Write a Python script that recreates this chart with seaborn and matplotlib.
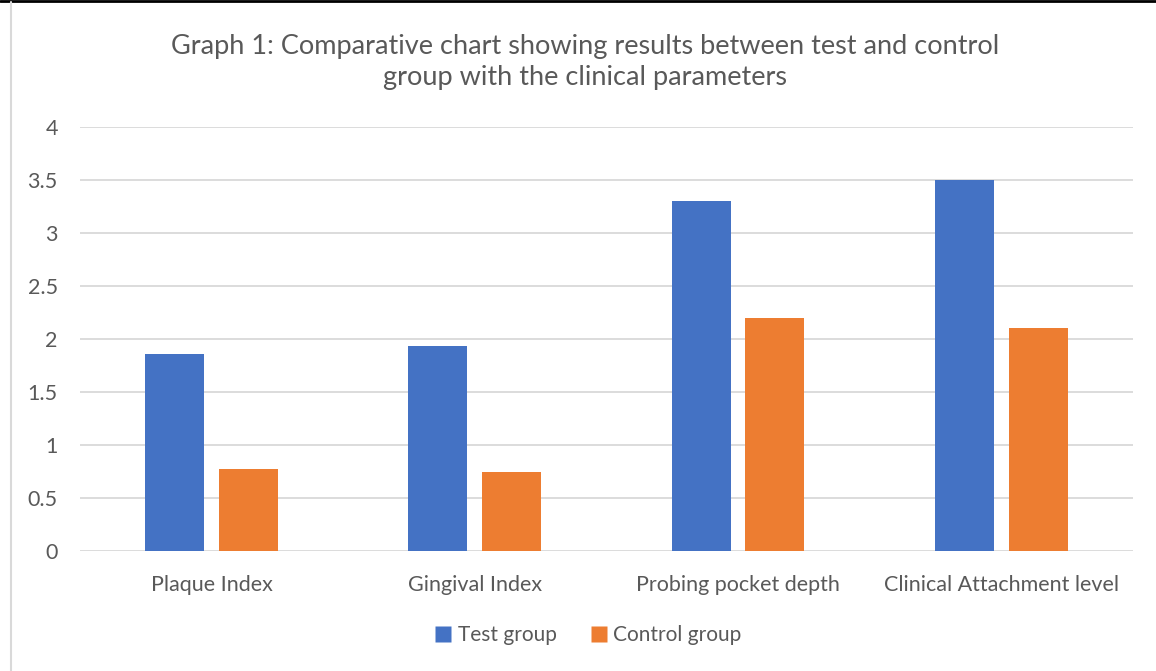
import matplotlib
matplotlib.use("Agg")
import matplotlib.pyplot as plt
from matplotlib.lines import Line2D
import seaborn as sns
import pandas as pd

# Clinical parameters and group means
categories = ["Plaque Index", "Gingival Index", "Probing pocket depth", "Clinical Attachment level"]
test_group = [1.86, 1.93, 3.3, 3.5]
control_group = [0.77, 0.75, 2.2, 2.1]
groups = ["Test group", "Control group"]
y_ticks = [0, 0.5, 1, 1.5, 2, 2.5, 3, 3.5, 4]
y_tick_labels = ["0", "0.5", "1", "1.5", "2", "2.5", "3", "3.5", "4"]

df = pd.DataFrame({
    "Parameter": categories * 2,
    "Group": [groups[0]] * len(categories) + [groups[1]] * len(categories),
    "Value": test_group + control_group,
})

sns.set_theme(style="white")
plt.rcParams["font.family"] = ["Lato", "DejaVu Sans"]

text_color = "#595959"
grid_color = "#D9D9D9"
palette = {"Test group": "#4472C4", "Control group": "#ED7D31"}

fig = plt.figure(figsize=(11.56, 6.71), dpi=100)
ax = fig.add_axes([0.0692, 0.1788, 0.9108, 0.6319])

sns.barplot(data=df, x="Parameter", y="Value", hue="Group", palette=palette,
            width=0.56, gap=0.2, ax=ax, legend=False, saturation=1,
            edgecolor="none", zorder=3)

ax.set_ylim(0, 4)
ax.set_xlim(-0.5, len(categories) - 0.5)
ax.set_yticks(y_ticks)
ax.set_yticklabels(y_tick_labels)
ax.yaxis.grid(True, color=grid_color, linewidth=1.3, zorder=0)
ax.set_axisbelow(True)
for s in ax.spines.values():
    s.set_visible(False)
ax.tick_params(axis="both", length=0, colors=text_color, labelsize=15.5)
ax.tick_params(axis="y", pad=16)
ax.tick_params(axis="x", pad=17)
ax.set_xlabel("")
ax.set_ylabel("")

fig.text(0.506, 0.907,
         "Graph 1: Comparative chart showing results between test and control\ngroup with the clinical parameters",
         ha="center", va="center", fontsize=19.5, color=text_color, linespacing=1.3)

handles = [Line2D([0], [0], marker="s", linestyle="none", markersize=11,
                  markerfacecolor=palette[g], markeredgecolor="none") for g in groups]
fig.legend(handles, groups, loc="center", bbox_to_anchor=(0.508, 0.053), ncol=2,
           frameon=False, fontsize=15, labelcolor=text_color, handletextpad=0.2,
           columnspacing=1.5, handlelength=1.0)

# Page border fragments
fig.add_artist(Line2D([0, 1], [0.998, 0.998], transform=fig.transFigure, color="black", linewidth=2))
fig.add_artist(Line2D([0.0095, 0.0095], [0.0, 0.997], transform=fig.transFigure, color="#D9D9D9", linewidth=1.5))

fig.savefig("out.png", dpi=100)
